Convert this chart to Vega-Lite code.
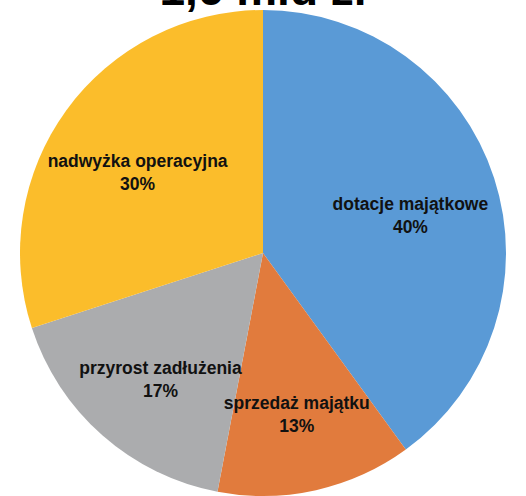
{
  "$schema": "https://vega.github.io/schema/vega-lite/v6.json",
  "width": 526,
  "height": 506,
  "autosize": "none",
  "padding": 0,
  "background": "white",
  "title": {"text": "1,6 mld zł", "fontSize": 46, "font": "Liberation Sans", "fontWeight": "bold", "color": "black", "offset": -15, "anchor": "middle"},
  "data": {"values": [
    {"category": "dotacje majątkowe", "value": 40, "order": 1},
    {"category": "sprzedaż majątku", "value": 13, "order": 2},
    {"category": "przyrost zadłużenia", "value": 17, "order": 3},
    {"category": "nadwyżka operacyjna", "value": 30, "order": 4}
  ]},
  "transform": [{"calculate": "datum.category + '\\n' + datum.value + '%'", "as": "label"}],
  "encoding": {
    "theta": {"field": "value", "type": "quantitative", "stack": true},
    "order": {"field": "order", "type": "quantitative"}
  },
  "layer": [
    {
      "mark": {"type": "arc", "outerRadius": 243},
      "encoding": {
        "color": {"field": "category", "type": "nominal", "legend": null,
          "scale": {"domain": ["dotacje majątkowe", "sprzedaż majątku", "przyrost zadłużenia", "nadwyżka operacyjna"],
                    "range": ["#5a9ad6", "#e17b3d", "#abacae", "#fbbd2b"]}}
      }
    },
    {
      "mark": {"type": "text", "radius": 155, "fontSize": 17.5, "fontWeight": "bold", "font": "Liberation Sans", "lineBreak": "\n", "lineHeight": 23, "color": "#111111"},
      "encoding": {"text": {"field": "label", "type": "nominal"}}
    }
  ]
}
